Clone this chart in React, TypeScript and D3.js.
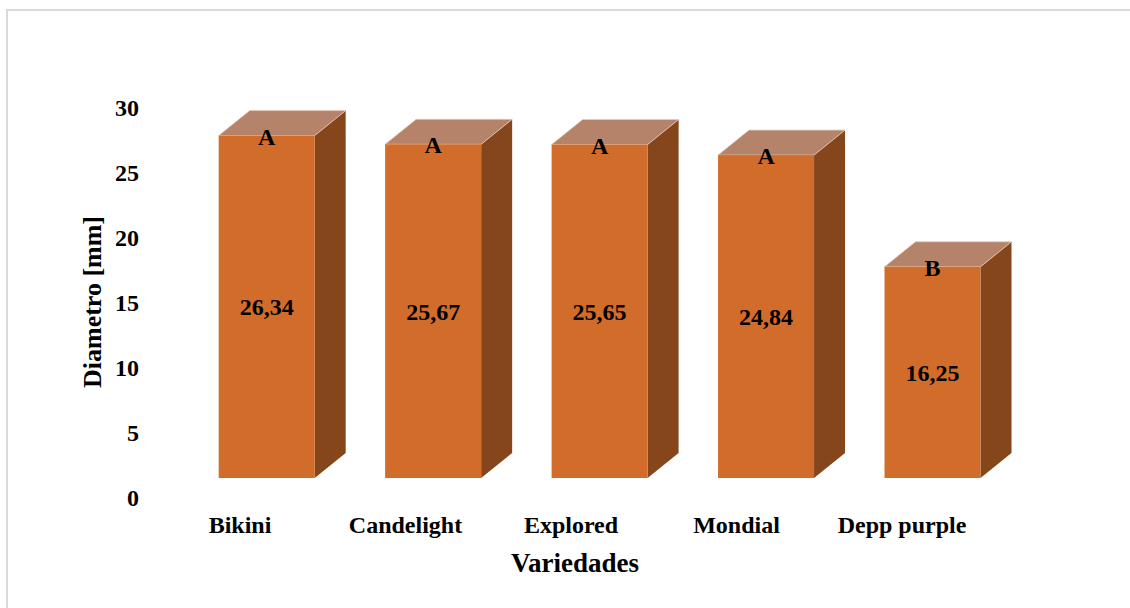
import React from "react";
import * as d3 from "d3";

// Diámetro medio por variedad (mm) y grupo estadístico
const categories = ["Bikini", "Candelight", "Explored", "Mondial", "Depp purple"];
const diameters = [26.34, 25.67, 25.65, 24.84, 16.25];
const groups = ["A", "A", "A", "A", "B"];
const yTicks = [0, 5, 10, 15, 20, 25, 30];

const W = 1130;
const H = 608;
const FONT = "'Liberation Serif', 'Times New Roman', serif";

const FRONT = "#D26C2B";
const TOP = "#B5826A";
const SIDE = "#85461C";

// 3D box depth offset
const DX = 31;
const DY = 25;
const BAR_W = 96;
// The value axis sits on the back wall, below/behind the bars' front faces
const WALL_SHIFT = 20;

export default function App() {
  const y = d3.scaleLinear().domain([0, 30]).range([478, 88]);
  const x = d3.scalePoint<string>().domain(categories).range([266.7, 932.5]);
  const xLabel = d3.scalePoint<string>().domain(categories).range([240, 902]);
  const fmt = (v: number) => v.toFixed(2).replace(".", ",");

  return (
    <svg
      width={W}
      height={H}
      style={{ position: "absolute", left: 0, top: 0, background: "#fff" }}
      fontFamily={FONT}
      fontWeight="bold"
    >
      <rect x={7} y={10} width={1140} height={620} fill="#fff" stroke="#d9d9d9" strokeWidth={2} />

      {/* y tick labels */}
      {yTicks.map((t) => (
        <text
          key={t}
          x={139}
          y={y(t) + WALL_SHIFT}
          dy="0.35em"
          textAnchor="end"
          fontSize={24}
          fill="#000"
        >
          {t}
        </text>
      ))}

      {/* bars */}
      {categories.map((c, i) => {
        const cx = x(c) as number;
        const x0 = cx - BAR_W / 2;
        const x1 = cx + BAR_W / 2;
        const yt = y(diameters[i]);
        const yb = y(0);
        const top = `M${x0},${yt}L${x1},${yt}L${x1 + DX},${yt - DY}L${x0 + DX},${yt - DY}Z`;
        const side = `M${x1},${yt}L${x1 + DX},${yt - DY}L${x1 + DX},${yb - DY}L${x1},${yb}Z`;
        return (
          <g key={c}>
            <path d={side} fill={SIDE} />
            <path d={top} fill={TOP} stroke="#e9c9b8" strokeWidth={0.8} />
            <rect x={x0} y={yt} width={BAR_W} height={yb - yt} fill={FRONT} />
            <text x={cx} y={yt + 9} textAnchor="middle" fontSize={24} fill="#000">
              {groups[i]}
            </text>
            <text
              x={cx}
              y={(yt + yb) / 2}
              dy="0.35em"
              textAnchor="middle"
              fontSize={24}
              fill="#000"
            >
              {fmt(diameters[i])}
            </text>
          </g>
        );
      })}

      {/* category labels */}
      {categories.map((c) => (
        <text key={c} x={xLabel(c) as number} y={533} textAnchor="middle" fontSize={24} fill="#000">
          {c}
        </text>
      ))}

      {/* axis titles */}
      <text x={575} y={572} textAnchor="middle" fontSize={27} fill="#000">
        Variedades
      </text>
      <text
        transform={`translate(101,302) rotate(-90)`}
        textAnchor="middle"
        fontSize={26}
        fill="#000"
      >
        Diametro [mm]
      </text>
    </svg>
  );
}
